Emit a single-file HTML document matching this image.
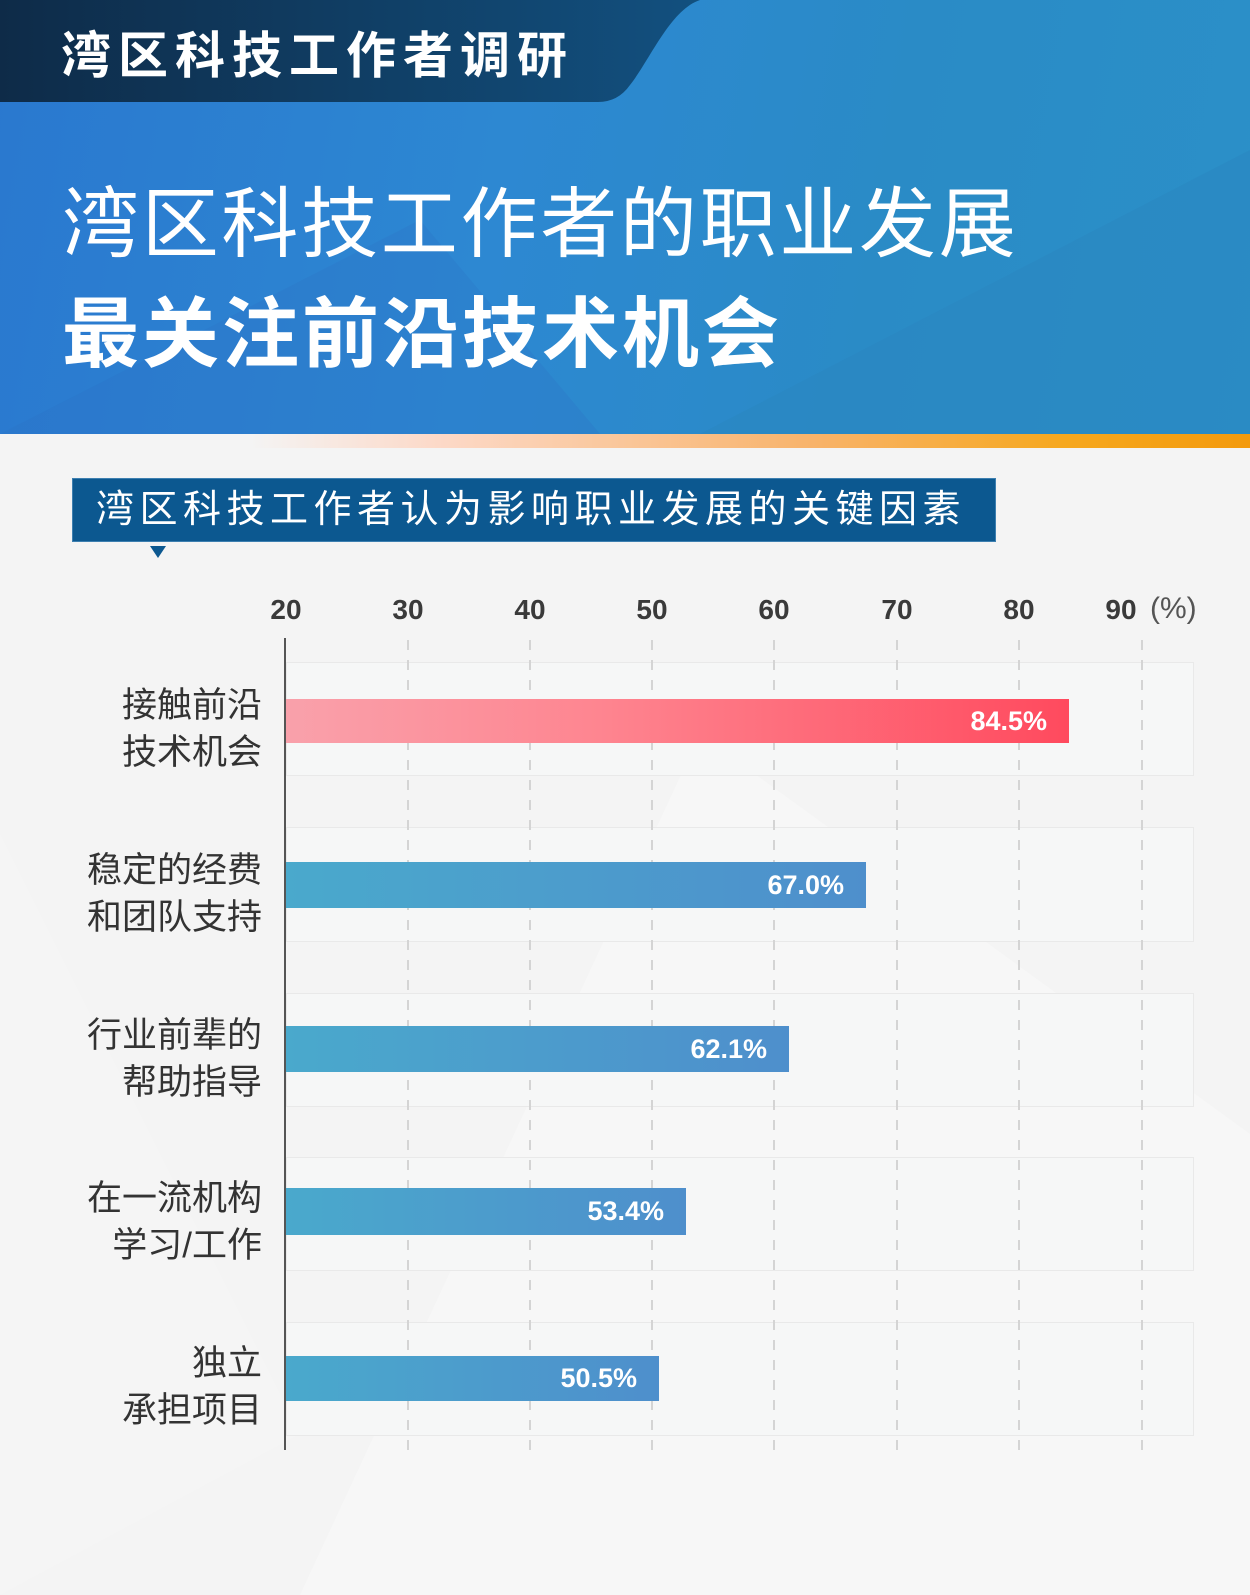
<!DOCTYPE html>
<html><head><meta charset="utf-8"><style>
*{margin:0;padding:0;box-sizing:border-box}
body{width:1250px;height:1595px;position:relative;overflow:hidden;background:#f4f4f4;font-family:"Liberation Sans","Noto Sans CJK SC",sans-serif}
.abs{position:absolute}
.hdr{left:0;top:0;width:1250px;height:434px;background:linear-gradient(100deg,#2a78cf 0%,#2d88d2 40%,#2a8bc6 70%,#2b90c8 100%)}
.t{color:#fff;white-space:nowrap}
.lab{right:988px;text-align:right;color:#333;font-size:35px;line-height:47px;white-space:nowrap}
.band{left:286px;width:908px;background:#f6f7f7;border:1px solid #e9e9e9}
.bar{left:286px;color:#fff;font-weight:bold;font-size:27px;text-align:right;padding-right:22px;display:flex;align-items:center;justify-content:flex-end;font-family:"Liberation Sans",sans-serif}
.blue{background:linear-gradient(90deg,#4aa9cc,#4e8fcc)}
.tick{top:594px;font-size:28px;font-weight:bold;color:#3a3a3a;transform:translateX(-50%);font-family:"Liberation Sans",sans-serif}
</style></head><body>
<svg class="abs" style="left:0;top:434px" width="1250" height="1161"><polygon points="300,1161 700,300 1250,700 1250,1161" fill="#f7f7f7"/><polygon points="0,400 300,1000 0,1161" fill="#f5f5f5"/></svg>
<div class="abs hdr"></div>
<svg class="abs" style="left:0;top:0" width="1250" height="434"><polygon points="700,434 1250,150 1250,434" fill="#2a86c0" opacity=".5"/><polygon points="0,434 420,220 600,434" fill="#2b70c4" opacity=".25"/></svg>
<svg class="abs" style="left:0;top:0" width="720" height="102"><defs><linearGradient id="g" x1="0" x2="1"><stop offset="0" stop-color="#0e2b48"/><stop offset="1" stop-color="#12507f"/></linearGradient></defs><path d="M0,0 H700 C670,10 650,60 630,85 Q618,102 598,102 H0 Z" fill="url(#g)"/></svg>
<div class="abs t" style="left:61px;top:26px;font-size:50px;font-weight:bold;line-height:60px;letter-spacing:7px">湾区科技工作者调研</div>
<div class="abs t" style="left:62px;top:182px;font-size:77px;line-height:86px;letter-spacing:2.7px">湾区科技工作者的职业发展</div>
<div class="abs t" style="left:62px;top:292px;font-size:77px;font-weight:bold;line-height:86px;letter-spacing:3px">最关注前沿技术机会</div>
<div class="abs" style="left:0;top:434px;width:1250px;height:14px;background:linear-gradient(90deg,rgba(255,255,255,0) 20%,#fcd9c8 35%,#f8b36a 65%,#f6a81f 85%,#f39a0d 100%)"></div>
<div class="abs" style="left:72px;top:478px;width:924px;height:64px;background:#0c5890;border:1px solid #3d7fb0"></div>
<div class="abs t" style="left:96px;top:487px;font-size:38px;line-height:46px;letter-spacing:5.5px">湾区科技工作者认为影响职业发展的关键因素</div>
<svg class="abs" style="left:150px;top:546px" width="16" height="12"><polygon points="0,0 16,0 8,12" fill="#0c5890"/></svg>
<div class="abs tick" style="left:286px">20</div><div class="abs tick" style="left:408px">30</div><div class="abs tick" style="left:530px">40</div><div class="abs tick" style="left:652px">50</div><div class="abs tick" style="left:774px">60</div><div class="abs tick" style="left:897px">70</div><div class="abs tick" style="left:1019px">80</div><div class="abs tick" style="left:1121px;transform:translateX(-50%)">90</div>
<div class="abs" style="left:1150px;top:592px;font-size:30px;color:#555">(%)</div>
<div class="abs band" style="top:662px;height:114px"></div>
<div class="abs band" style="top:827px;height:115px"></div>
<div class="abs band" style="top:993px;height:114px"></div>
<div class="abs band" style="top:1157px;height:114px"></div>
<div class="abs band" style="top:1322px;height:114px"></div>
<svg class="abs" style="left:0;top:0" width="1250" height="1595"><g stroke="#d4d4d4" stroke-width="2" stroke-dasharray="10,10">
<line x1="408" y1="640" x2="408" y2="1450"/><line x1="530" y1="640" x2="530" y2="1450"/><line x1="652" y1="640" x2="652" y2="1450"/><line x1="774" y1="640" x2="774" y2="1450"/><line x1="897" y1="640" x2="897" y2="1450"/><line x1="1019" y1="640" x2="1019" y2="1450"/><line x1="1142" y1="640" x2="1142" y2="1450"/></g>
<line x1="285" y1="638" x2="285" y2="1450" stroke="#555" stroke-width="2"/></svg>
<div class="abs bar" style="top:699px;height:44px;width:783px;background:linear-gradient(90deg,#f9a1ab,#fe8590 40%,#ff4a5e)">84.5%</div>
<div class="abs bar blue" style="top:862px;height:46px;width:580px">67.0%</div>
<div class="abs bar blue" style="top:1026px;height:46px;width:503px">62.1%</div>
<div class="abs bar blue" style="top:1188px;height:47px;width:400px">53.4%</div>
<div class="abs bar blue" style="top:1356px;height:45px;width:373px">50.5%</div>
<div class="abs lab" style="top:682px">接触前沿<br>技术机会</div>
<div class="abs lab" style="top:847px">稳定的经费<br>和团队支持</div>
<div class="abs lab" style="top:1012px">行业前辈的<br>帮助指导</div>
<div class="abs lab" style="top:1175px">在一流机构<br>学习/工作</div>
<div class="abs lab" style="top:1340px">独立<br>承担项目</div>
</body></html>
